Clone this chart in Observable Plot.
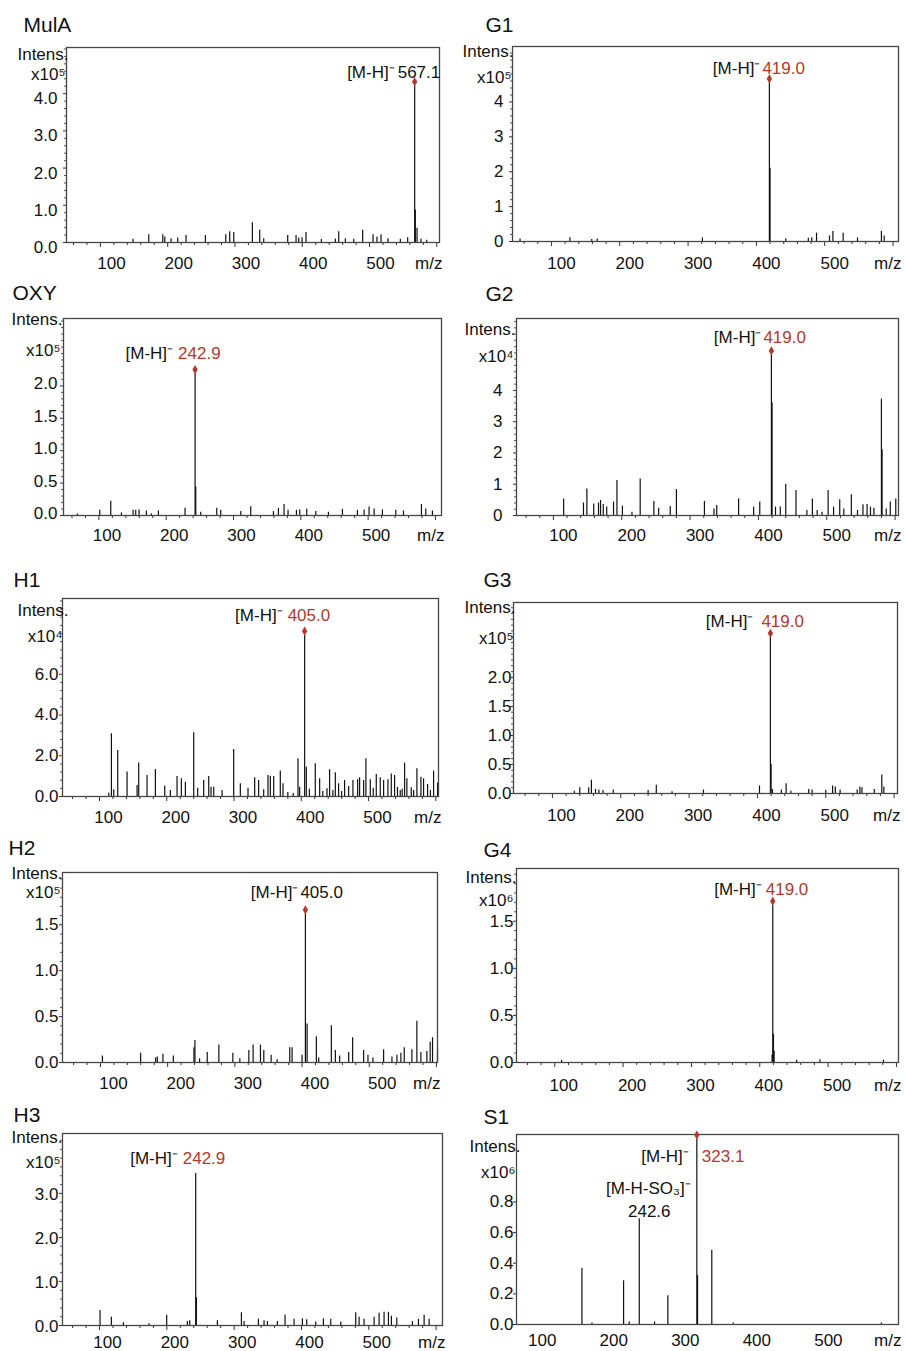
<!DOCTYPE html>
<html><head><meta charset="utf-8">
<script src="https://cdn.jsdelivr.net/npm/d3@7"></script>
<script src="https://cdn.jsdelivr.net/npm/@observablehq/plot@0.6"></script>
<style>
body{margin:0;background:#fff;}
#root{position:relative;width:906px;height:1351px;overflow:hidden;font-family:"Liberation Sans",Arial,sans-serif;}
.cell{position:absolute;}
.cell svg{overflow:visible;}
</style></head><body><div id="root"></div>
<script>
// ---------- DATA (m/z, intensity in units of 10^exp) ----------
const panelNames = ["MulA","G1","OXY","G2","H1","G3","H2","G4","H3","S1"];
const exponents = ["5","5","5","4","4","5","5","6","5","6"];
const mainMz = [567.1,419.0,242.9,419.0,405.0,419.0,405.0,419.0,242.9,323.1];
const mainLabel = ["567.1","419.0","242.9","419.0","405.0","419.0","405.0","419.0","242.9","323.1"];
const mainRed = [false,true,true,true,true,true,false,true,true,true];
const xTickLabels = [100,200,300,400,500];
const yTicks = [[0,1,2,3,4],[0,1,2,3,4],[0,0.5,1,1.5,2],[0,1,2,3,4],[0,2,4,6],[0,0.5,1,1.5,2],[0,0.5,1,1.5],[0,0.5,1,1.5],[0,1,2,3],[0,0.2,0.4,0.6,0.8]];
const yFormats = [".1f","d",".1f","d",".1f",".1f",".1f",".1f",".1f",".1f"];
const xDomains = [[49.6,604],[43,608],[47.4,609],[46,605],[45,604],[43,605],[43.5,601.6],[44,603],[45,609.5],[71,605]];
const yTops = [5.24,5.59,3.04,6.3,9.72,3.29,2.07,2.06,4.36,1.24];
const s1Fragment = {mz:242.6, label:"[M-H-SO₃]⁻", value:"242.6"};

const mulaPeaks = [[148.6,0.09],[171.9,0.21],[192.7,0.21],[195.7,0.15],[205,0.1],[214.9,0.12],[227.3,0.19],[256,0.19],[286.3,0.21],[292.2,0.29],[298.2,0.27],[325.9,0.53],[336.8,0.33],[342.7,0.1],[378.4,0.19],[390.8,0.19],[394.7,0.12],[399.7,0.13],[405.6,0.27],[428.4,0.08],[449.3,0.09],[454.2,0.29],[464.1,0.1],[476.5,0.09],[489.8,0.33],[505.2,0.21],[511.1,0.15],[517.1,0.21],[527.5,0.1],[545.8,0.09],[556.7,0.13],[567.1,4.21],[568.1,0.87],[570.6,0.38],[576.5,0.09],[585,0.06]];
const g1Peaks = [[54,0.07],[127,0.11],[159,0.06],[167,0.07],[321,0.1],[419.0,4.55],[420.0,2.1],[443,0.08],[476,0.09],[481,0.11],[488,0.24],[507,0.16],[512,0.29],[527,0.24],[548,0.1],[583,0.29],[587,0.16]];
const oxyPeaks = [[68,0.025],[101.3,0.08],[117.6,0.22],[133.4,0.04],[150.8,0.08],[154.7,0.08],[159.7,0.085],[170.6,0.07],[178,0.025],[188.4,0.07],[228,0.11],[242.9,2.19],[243.9,0.44],[251.3,0.05],[275.1,0.11],[281,0.08],[310.8,0.06],[325.6,0.135],[359.3,0.06],[366.7,0.11],[375.1,0.17],[381,0.08],[393.5,0.08],[398.4,0.085],[408.8,0.095],[422.2,0.06],[441,0.05],[461.8,0.095],[484.1,0.08],[494,0.085],[501.4,0.13],[508.9,0.1],[521.2,0.085],[541.1,0.08],[552.5,0.07],[579.2,0.17],[585.6,0.1],[595.5,0.07]];
const g2Peaks = [[115,0.53],[144,0.4],[149,0.85],[159,0.37],[166,0.4],[169,0.48],[173,0.35],[178,0.27],[188,0.43],[193,1.12],[201,0.3],[215,0.1],[227,1.17],[247,0.45],[254,0.23],[271,0.29],[280,0.83],[321,0.45],[335,0.21],[339,0.32],[371,0.53],[393,0.27],[402,0.43],[419.0,5.14],[420,3.6],[425,0.27],[432,0.27],[440,0.99],[455,0.8],[471,0.16],[479,0.53],[486,0.16],[493,0.1],[502,0.8],[510,0.27],[519,0.5],[525,0.21],[536,0.66],[545,0.16],[553,0.34],[559,0.35],[564,0.27],[569,0.23],[580,3.72],[581,2.1],[587,0.21],[593,0.43],[601,0.53]];
const h1Peaks = [[113.8,0.16],[117.7,3.08],[121.2,0.33],[127.1,2.26],[141,1.2],[155.9,0.54],[158.3,1.64],[170.7,1.03],[183.1,1.33],[197,0.51],[205.4,0.3],[215.3,0.98],[221.7,0.87],[227.7,0.7],[240.1,3.13],[246,0.41],[254.9,0.79],[262.4,0.98],[265.8,0.46],[269.8,0.46],[282.2,0.3],[299.5,2.31],[309.4,0.62],[320.8,0.41],[330.7,0.92],[336.6,0.79],[344.1,0.33],[350.5,1.03],[354,1.0],[359,0.98],[368.8,1.25],[372.8,0.62],[380,0.2],[388,0.15],[395.1,1.85],[397.6,0.46],[405.0,7.92],[407.5,1.44],[412,0.35],[420.8,1.61],[427.3,0.87],[432,0.25],[438.2,0.38],[442.1,1.31],[447,0.3],[450.6,1.16],[455.5,0.62],[460,0.25],[464.4,0.79],[470.4,0.49],[476.8,0.79],[483.8,0.82],[486.7,0.92],[492.7,0.79],[496.1,1.85],[502.6,0.82],[507,0.4],[511.5,1.08],[517.4,0.92],[522.4,0.79],[528.8,0.82],[533.8,1.11],[538.7,1.03],[543,0.45],[547.1,0.3],[550,0.35],[553.6,1.64],[557,0.87],[563.5,0.43],[567,0.3],[571.9,1.36],[577.9,0.95],[581.8,0.87],[587.8,0.59],[592,0.3],[596.7,1.25],[602.6,0.66]];
const g3Peaks = [[132,0.04],[140,0.1],[153,0.1],[157,0.23],[163,0.07],[168,0.06],[174,0.05],[189,0.06],[240,0.05],[252,0.14],[275,0.03],[321,0.06],[403,0.13],[419.0,2.69],[420,0.5],[422,0.07],[435,0.06],[442,0.17],[449,0.04],[475,0.07],[480,0.06],[500,0.05],[510,0.13],[514,0.11],[521,0.06],[546,0.06],[550,0.11],[553,0.1],[571,0.07],[582,0.32],[585,0.11]];
const h2Peaks = [[102.9,0.07],[159.8,0.1],[182.1,0.05],[184.6,0.06],[193,0.09],[208.4,0.07],[239.1,0.16],[240.6,0.24],[247.5,0.04],[258.9,0.11],[276.2,0.19],[297,0.1],[307.4,0.04],[320.8,0.13],[327.2,0.19],[338.1,0.19],[343.1,0.13],[354,0.08],[362.9,0.03],[381.7,0.16],[385.2,0.16],[400,0.08],[405.0,1.62],[407.5,0.42],[421.3,0.28],[424.8,0.05],[443.6,0.4],[449.6,0.13],[456,0.07],[469.4,0.11],[475.3,0.27],[491.7,0.13],[498.1,0.08],[505.5,0.05],[521.4,0.14],[533.8,0.06],[541.2,0.08],[547.1,0.1],[552.1,0.16],[563.5,0.14],[570.9,0.45],[576.9,0.11],[585.8,0.12],[590.7,0.22],[594.2,0.27],[601.6,0.14]];
const g4Peaks = [[110,0.02],[418,0.08],[419.0,1.67],[420,0.3],[421,0.12],[454,0.025],[488,0.03],[581,0.025]];
const h3Peaks = [[100.8,0.34],[117.6,0.19],[135.4,0.06],[173.6,0.04],[199.8,0.23],[230.5,0.09],[234,0.11],[242.9,3.45],[243.9,0.63],[275.1,0.11],[310.8,0.29],[314.7,0.09],[336,0.14],[344.4,0.11],[349.4,0.09],[364.2,0.09],[375.6,0.23],[389,0.14],[401.4,0.15],[407.8,0.13],[421.2,0.08],[432.6,0.15],[443.5,0.14],[458.4,0.08],[480.6,0.29],[485.6,0.19],[493,0.14],[507.9,0.19],[515.3,0.28],[522.7,0.3],[529.2,0.3],[533.6,0.21],[541.6,0.17],[564.8,0.09],[573.8,0.14],[582.2,0.23],[589.6,0.14]];
const s1Peaks = [[162.5,0.365],[176.5,0.01],[220.7,0.285],[228.6,0.017],[242.6,0.69],[264,0.017],[282.6,0.187],[323.1,1.21],[324.1,0.32],[344,0.485],[374,0.01],[581,0.01]];
const allPeaks = [mulaPeaks,g1Peaks,oxyPeaks,g2Peaks,h1Peaks,g3Peaks,h2Peaks,g4Peaks,h3Peaks,s1Peaks];

// ---------- LAYOUT (pixel positions and offsets) ----------
const layout = [
 {cell:[0,0,453,280], frame:[66,439,47,242], title:[-43,-22], intens:[2,7], exp:[-1,27], yGap:9, yDy:5, xDx:11, xDy:21, yMinor:0.2, xMinor:true, lab:[-17,-13,3], marker:true},
 {cell:[453,0,453,280], frame:[512,898,46,241], title:[-27,-21], intens:[1,5], exp:[-1,31], yGap:9, yDy:0, xDx:10, xDy:22, yMinor:0.2, xMinor:true, lab:[-7,-14,2], marker:true},
 {cell:[0,280,453,280], frame:[63,441,318,515], title:[-51,-25], intens:[-1,1], exp:[-3,32], yGap:6, yDy:-2, xDx:8, xDy:20, yMinor:0.1, xMinor:true, lab:[-17,-20,5], marker:true},
 {cell:[453,280,453,280], frame:[516,898,318,515], title:[-31,-24], intens:[-1,11], exp:[-3,38], yGap:14, yDy:0, xDx:10, xDy:20, yMinor:0.2, xMinor:true, lab:[-8,-17,2], marker:true},
 {cell:[0,560,453,270], frame:[62,438,598,796], title:[-49,-18], intens:[6,12], exp:[0,38], yGap:4, yDy:0, xDx:9, xDy:21, yMinor:0.4, xMinor:true, lab:[-17,-20,5], marker:true},
 {cell:[453,560,453,270], frame:[513,897,602,793], title:[-30,-22], intens:[2,5], exp:[0,36], yGap:2, yDy:0, xDx:9, xDy:22, yMinor:0.1, xMinor:true, lab:[-9,-16,8], marker:true},
 {cell:[0,830,453,265], frame:[62,437,872,1062], title:[-54,-24], intens:[0,1], exp:[-2,20], yGap:4, yDy:0, xDx:13, xDy:21, yMinor:0.1, xMinor:true, lab:[-5,-21,2], marker:true},
 {cell:[453,830,453,265], frame:[516,898,868,1062], title:[-33,-18], intens:[0,9], exp:[-3,32], yGap:3, yDy:0, xDx:9, xDy:23, yMinor:0.1, xMinor:true, lab:[-7,-16,4], marker:true},
 {cell:[0,1095,453,256], frame:[62,442,1133,1325], title:[-49,-18], intens:[0,4], exp:[-2,29], yGap:4, yDy:1, xDx:8, xDy:17, yMinor:0.2, xMinor:true, lab:[-13,-15,5], marker:false},
 {cell:[453,1095,453,256], frame:[516,898,1134,1324], title:[-33,-17], intens:[4,12], exp:[-1,38], yGap:3, yDy:0, xDx:5, xDy:16, yMinor:0, xMinor:false, lab:[5,17,13], marker:true}
];

const RED = "#b3392c";
const INK = "#111";
const FS = 17;
const supDigits = {"4":"⁴","5":"⁵","6":"⁶"};
const root = document.getElementById("root");

panelNames.forEach((name, i) => {
  const L = layout[i];
  const [cx, cy, cw, ch] = L.cell;
  const [fl, fr, ft, fb] = L.frame;
  const [x0, x1] = xDomains[i];
  const data = allPeaks[i].map(([mz, h]) => ({mz, h}));
  const main = data.find(d => d.mz === mainMz[i]);
  const majors = d3.range(100, x1 + 0.001, 100);
  const minors = d3.range(Math.ceil(x0 / 20) * 20, x1, 20).filter(v => v % 100 !== 0);
  const yt = yTicks[i];
  const yMinors = L.yMinor ? d3.range(0, yTops[i], L.yMinor).filter(v => !yt.some(t => Math.abs(t - v) < 1e-6)) : [];

  const marks = [
    Plot.ruleX(data, {x: "mz", y1: 0, y2: "h", stroke: INK, strokeWidth: 1.2})
  ];
  if (L.xMinor) {
    marks.push(Plot.axisX({ticks: minors, tickSize: 3, tickFormat: () => "", label: null, stroke: "#333"}));
    marks.push(Plot.axisX({ticks: majors, tickSize: 5, tickFormat: () => "", label: null, stroke: "#333"}));
  }
  marks.push(Plot.text(xTickLabels, {x: d => d, frameAnchor: "bottom", dx: L.xDx, dy: L.xDy, lineAnchor: "middle", textAnchor: "middle", fontSize: FS, fill: INK}));
  marks.push(Plot.text(["m/z"], {frameAnchor: "bottom-right", dx: 3, dy: L.xDy, textAnchor: "end", lineAnchor: "middle", fontSize: FS, fill: INK}));
  if (yMinors.length) marks.push(Plot.axisY({ticks: yMinors, tickSize: 2, tickFormat: () => "", label: null, stroke: "#555"}));
  marks.push(Plot.axisY({ticks: yt, tickSize: 3, tickFormat: () => "", label: null, stroke: "#333"}));
  marks.push(Plot.text(yt, {y: d => d, frameAnchor: "left", dx: -L.yGap, dy: L.yDy, textAnchor: "end", lineAnchor: "middle", fontSize: FS, fill: INK, text: d => d3.format(yFormats[i])(d)}));
  marks.push(Plot.frame({stroke: "#4a4542", strokeWidth: 1.3}));
  // titles and axis captions
  marks.push(Plot.text([name], {frameAnchor: "top-left", dx: L.title[0], dy: L.title[1], textAnchor: "start", lineAnchor: "middle", fontSize: 21, fill: INK}));
  marks.push(Plot.text(["Intens."], {frameAnchor: "top-left", dx: L.intens[0], dy: L.intens[1], textAnchor: "end", lineAnchor: "middle", fontSize: FS, fill: INK}));
  marks.push(Plot.text(["x10" + supDigits[exponents[i]]], {frameAnchor: "top-left", dx: L.exp[0], dy: L.exp[1], textAnchor: "end", lineAnchor: "middle", fontSize: FS, fill: INK}));
  // main peak annotation
  const top = [main];
  if (L.marker) marks.push(Plot.dot(top, {x: "mz", y: "h", symbol: "diamond", r: 2.8, fill: RED, stroke: null, dy: -4}));
  marks.push(Plot.text(top, {x: "mz", y: "h", text: () => "[M-H]⁻", textAnchor: "end", lineAnchor: "middle", dx: L.lab[0] - L.lab[2], dy: L.lab[1], fontSize: FS, fill: INK}));
  marks.push(Plot.text(top, {x: "mz", y: "h", text: () => mainLabel[i], textAnchor: "start", lineAnchor: "middle", dx: L.lab[0], dy: L.lab[1], fontSize: FS, fill: mainRed[i] ? RED : INK}));
  if (name === "S1") {
    const frag = [data.find(d => d.mz === s1Fragment.mz)];
    marks.push(Plot.text(frag, {x: "mz", y: "h", text: () => s1Fragment.label, textAnchor: "middle", lineAnchor: "middle", dx: 9, dy: -30, fontSize: FS, fill: INK}));
    marks.push(Plot.text(frag, {x: "mz", y: "h", text: () => s1Fragment.value, textAnchor: "middle", lineAnchor: "middle", dx: 10, dy: -7, fontSize: FS, fill: INK}));
  }

  const svg = Plot.plot({
    width: cw, height: ch,
    marginLeft: fl - cx, marginRight: cx + cw - fr,
    marginTop: ft - cy, marginBottom: cy + ch - fb,
    x: L.xMinor ? {type: "linear", domain: [x0, x1]} : {type: "linear", domain: [x0, x1], axis: null},
    y: {type: "linear", domain: [0, yTops[i]]},
    style: {fontFamily: '"Liberation Sans", Arial, sans-serif', fontSize: FS + "px", color: INK, background: "transparent", overflow: "visible"},
    marks
  });
  const div = document.createElement("div");
  div.className = "cell";
  div.style.left = cx + "px";
  div.style.top = cy + "px";
  div.appendChild(svg);
  root.appendChild(div);
});
</script>
</body></html>
